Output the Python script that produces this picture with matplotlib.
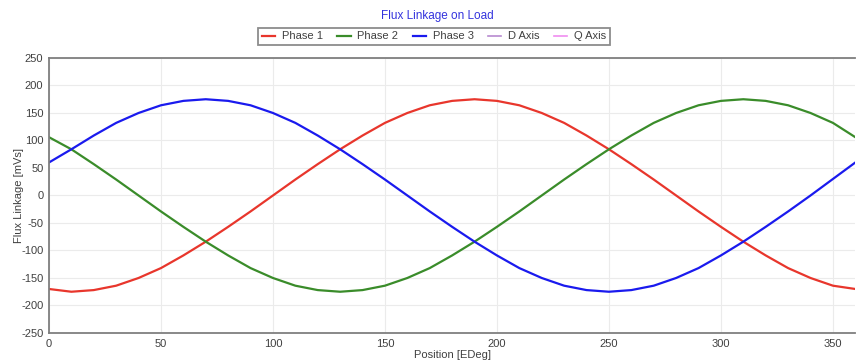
#---------------------------------Imports start--------------------------------
import matplotlib
matplotlib.use("Agg")
from matplotlib import pyplot as plt
#---------------------------------Imports End--------------------------------

#---------------------------------Data start--------------------------------
position = [0, 10, 20, 30, 40, 50, 60, 70, 80, 90, 100, 110, 120, 130, 140, 150, 160, 170, 180,
	190, 200, 210, 220, 230, 240, 250, 260, 270, 280, 290, 300, 310, 320, 330, 340, 350, 360]

phase1 = [-170, -175, -172, -164, -150, -132, -109, -84, -57, -29, 0, 29, 57, 84, 109, 132, 150, 164, 172,
	175, 172, 164, 150, 132, 109, 84, 57, 29, 0, -29, -57, -84, -109, -132, -150, -164, -170]
phase2 = [106, 84, 57, 29, 0, -29, -57, -84, -109, -132, -150, -164, -172, -175, -172, -164, -150, -132, -109,
	-84, -57, -29, 0, 29, 57, 84, 109, 132, 150, 164, 172, 175, 172, 164, 150, 132, 106]
phase3 = [60, 84, 109, 132, 150, 164, 172, 175, 172, 164, 150, 132, 109, 84, 57, 29, 0, -29, -57,
	-84, -109, -132, -150, -164, -172, -175, -172, -164, -150, -132, -109, -84, -57, -29, 0, 30, 60]
dAxis = []  # no values shown
qAxis = []  # no values shown

seriesNames = ["Phase 1", "Phase 2", "Phase 3", "D Axis", "Q Axis"]
#---------------------------------Data End--------------------------------

plt.rcParams['font.family'] = ['Liberation Sans', 'DejaVu Sans']
plt.rcParams['axes.unicode_minus'] = False

fig = plt.figure(figsize=(8.56, 3.64), dpi=100)
ax = fig.add_axes([0.0572, 0.0852, 0.942, 0.7555])

ax.plot(position, phase1, color="#e8362c", lw=1.6, label=seriesNames[0])
ax.plot(position, phase2, color="#3a8c2a", lw=1.6, label=seriesNames[1])
ax.plot(position, phase3, color="#1a1aee", lw=1.6, label=seriesNames[2])
ax.plot(dAxis, dAxis, color="#b78ad0", lw=1.2, label=seriesNames[3])
ax.plot(qAxis, qAxis, color="#f08cf0", lw=1.2, label=seriesNames[4])

ax.set_xlim(0, 360)
ax.set_ylim(-250, 250)
ax.set_xticks(range(0, 351, 50))
ax.set_yticks(range(-250, 251, 50))
ax.grid(True, color="#ebebeb", lw=0.8)
ax.set_axisbelow(True)
ax.tick_params(length=0, labelsize=8, colors="#404040", pad=4)

for side in ["left", "bottom", "top"]:
	ax.spines[side].set_color("#7f7f7f")
	ax.spines[side].set_linewidth(1.3)
ax.spines["right"].set_visible(False)

ax.set_xlabel("Position [EDeg]", fontsize=8, color="#404040", labelpad=1)
ax.set_ylabel("Flux Linkage [mVs]", fontsize=8, color="#404040", labelpad=-2)

fig.text(0.511, 0.957, "Flux Linkage on Load", ha="center", va="center", fontsize=8.5, color="#3333dd")

leg = fig.legend(loc="center", bbox_to_anchor=(0.507, 0.9), ncol=5, fontsize=8,
	frameon=True, fancybox=False, handlelength=1.2, handletextpad=0.6, columnspacing=1.3,
	borderpad=0.35, labelcolor="#404040")
leg.get_frame().set_edgecolor("#707070")
leg.get_frame().set_linewidth(1.3)

fig.savefig("out.png", dpi=100)
